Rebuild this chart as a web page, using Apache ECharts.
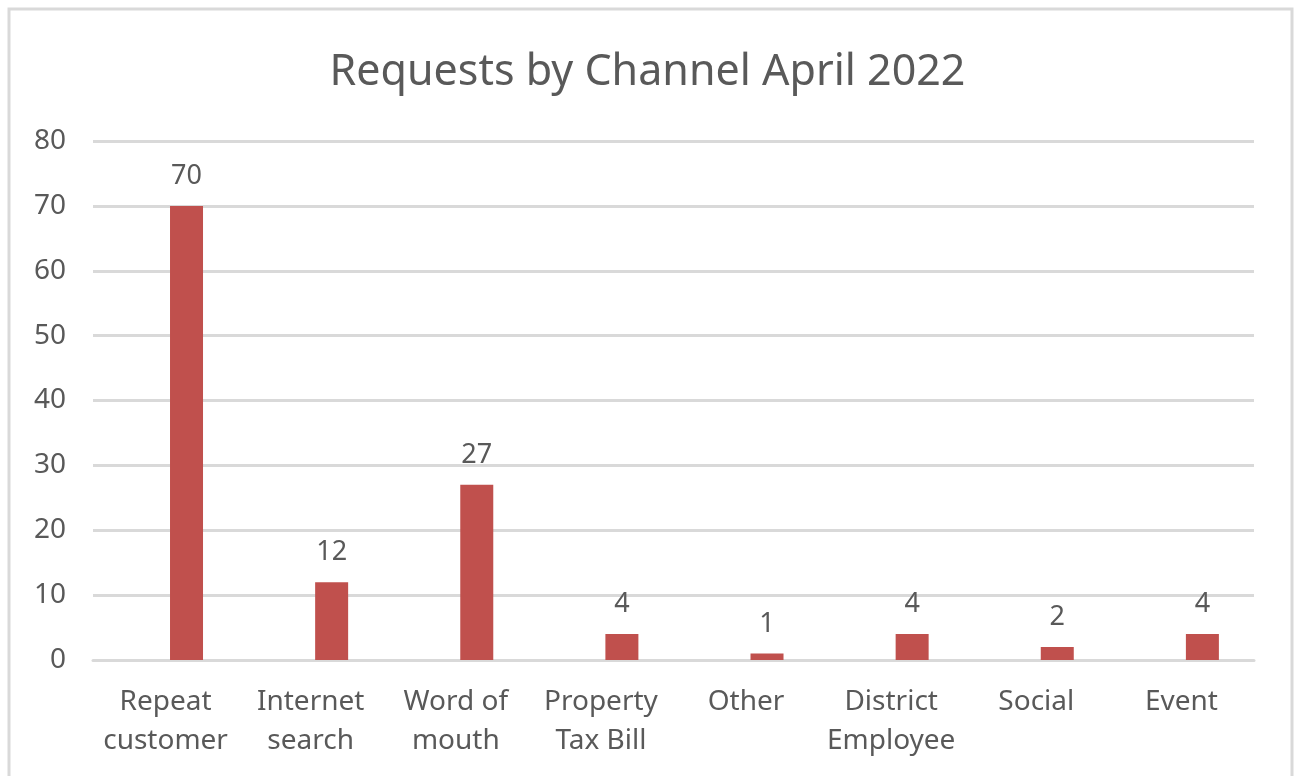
<!DOCTYPE html>
<html>
<head>
<meta charset="utf-8">
<script src="https://cdn.jsdelivr.net/npm/echarts@6/dist/echarts.min.js"></script>
<style>
  html, body { margin: 0; padding: 0; background: #fff; }
  #chart { width: 1295px; height: 776px; }
</style>
</head>
<body>
<div id="chart"></div>
<script>
// Request channels and the number of requests received in April 2022
const channels = ['Repeat\ncustomer', 'Internet\nsearch', 'Word of\nmouth', 'Property\nTax Bill', 'Other', 'District\nEmployee', 'Social', 'Event'];
const requests = [70, 12, 27, 4, 1, 4, 2, 4];
// Empty companion series: keeps its slot in each category so the bars sit right of centre
const blankSlot = [null, null, null, null, null, null, null, null];
const yTicks = { min: 0, max: 80, interval: 10 };

const textColor = '#595959';
const fontFamily = '"Noto Sans", "Open Sans", sans-serif';

const chart = echarts.init(document.getElementById('chart'));
chart.setOption({
  animation: false,
  backgroundColor: '#ffffff',
  textStyle: { fontFamily: fontFamily, color: textColor },
  title: {
    text: 'Requests by Channel April 2022',
    left: 'center',
    top: 46,
    textStyle: { fontFamily: fontFamily, fontSize: 43, fontWeight: 'normal', color: textColor }
  },
  graphic: [{
    type: 'rect',
    shape: { x: 9, y: 9, width: 1283, height: 790 },
    style: { fill: 'none', stroke: '#d9d9d9', lineWidth: 3 },
    silent: true
  }],
  grid: { left: 93, right: 41, top: 141, bottom: 116 },
  xAxis: {
    type: 'category',
    data: channels,
    axisTick: { show: false },
    axisLine: { lineStyle: { color: '#d9d9d9', width: 3 } },
    axisLabel: {
      interval: 0,
      margin: 23,
      fontSize: 28,
      lineHeight: 39,
      color: textColor,
      fontFamily: fontFamily
    }
  },
  yAxis: {
    type: 'value',
    min: yTicks.min,
    max: yTicks.max,
    interval: yTicks.interval,
    axisLine: { show: false },
    axisTick: { show: false },
    splitLine: { lineStyle: { color: '#d9d9d9', width: 3 } },
    axisLabel: { margin: 27, fontSize: 28, color: textColor, fontFamily: fontFamily }
  },
  series: [{
    type: 'bar',
    data: blankSlot,
    barWidth: 33,
    barGap: '27%',
    silent: true
  }, {
    type: 'bar',
    data: requests,
    barWidth: 33,
    barGap: '27%',
    itemStyle: { color: '#c0504d' },
    label: {
      show: true,
      position: 'top',
      distance: 16,
      fontSize: 27,
      color: textColor,
      fontFamily: fontFamily
    }
  }]
});
</script>
</body>
</html>
